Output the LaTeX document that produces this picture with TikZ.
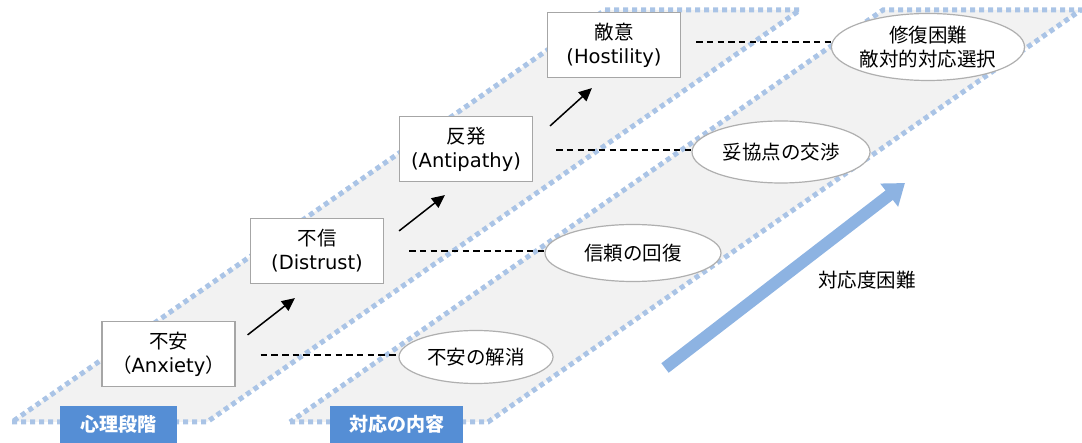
\documentclass[tikz,border=0pt]{standalone}
\usepackage{fontspec}
\setmainfont{DejaVu Sans}
\newfontfamily\jp{Noto Sans CJK JP}
\usetikzlibrary{arrows.meta,calc,shapes.geometric}
\definecolor{bandfill}{HTML}{F2F2F2}
\definecolor{banddot}{HTML}{AAC4E6}
\definecolor{lblblue}{HTML}{558ED5}
\definecolor{bigblue}{HTML}{8DB3E2}
\definecolor{edgegray}{HTML}{A6A6A6}
\begin{document}
\begin{tikzpicture}[x=1pt,y=-1pt,
  band/.style={fill=bandfill,draw=banddot,line width=5pt,dash pattern=on 5pt off 4pt},
  stagebox/.style={draw=edgegray,fill=white,line width=1.2pt,minimum width=133pt,minimum height=65pt,inner sep=0pt,align=center,font=\fontsize{19.5}{24}\selectfont},
  actell/.style={ellipse,draw=edgegray!90,fill=white,line width=1.2pt,inner sep=0pt,align=center,font=\jp\fontsize{19.5}{24}\selectfont},
  lbl/.style={fill=lblblue,text=white,minimum height=37pt,inner sep=0pt,font=\jp\bfseries\fontsize{19}{20}\selectfont},
  link/.style={black,line width=1.5pt,-{Triangle[length=13pt,width=12pt]}},
  guide/.style={black,line width=1.3pt,dash pattern=on 6.5pt off 4.2pt}
]
\useasboundingbox (0,0) rectangle (1082,443);
% bands
\coordinate (L1) at (12,422); \coordinate (L2) at (207,422);
\coordinate (L3) at (800,10); \coordinate (L4) at (605,10);
\coordinate (R1) at (290,422); \coordinate (R2) at (488,422);
\coordinate (R3) at (1081,10); \coordinate (R4) at (883,10);
\draw[band] (L1) -- (L2) -- (L3) -- (L4) -- cycle;
\draw[band] (R1) -- (R2) -- (R3) -- (R4) -- cycle;
% stage boxes
\node[stagebox] (b1) at (168.5,354) {{\jp 不安}\\{\jp （}Anxiety{\jp ）}};
\node[stagebox] (b2) at (317,251) {{\jp 不信}\\(Distrust)};
\node[stagebox] (b3) at (466,149) {{\jp 反発}\\(Antipathy)};
\node[stagebox] (b4) at (614,45) {{\jp 敵意}\\(Hostility)};
% ellipses
\node[actell,minimum width=154pt,minimum height=53pt] (e1) at (476,357) {不安の解消};
\node[actell,minimum width=176pt,minimum height=57pt] (e2) at (633,253) {信頼の回復};
\node[actell,minimum width=178pt,minimum height=62pt] (e3) at (781,152) {妥協点の交渉};
\node[actell,minimum width=183pt,minimum height=67pt] (e4) at (928,47) {修復困難\\敵対的対応選択};
% dashed guides
\draw[guide] ($(b1.east)+(25,1)$) -- ($(b1.east -| e1.west)+(0,1)$);
\draw[guide] ($(b2.east)+(25,0)$) -- (b2.east -| e2.west);
\draw[guide] ($(b3.east)+(23,1)$) -- ($(b3.east -| e3.west)+(0,1)$);
\draw[guide] ($(b4.east)+(15,-3)$) -- ($(b4.east -| e4.west)+(0,-3)$);
% stage arrows
\draw[link] ($(b1.north east)+(12,14)$) -- ($(b2.south west)+(45,14)$);
\draw[link] ($(b2.north east)+(15,13)$) -- ($(b3.south west)+(46,13)$);
\draw[link] ($(b3.north east)+(17,10)$) -- ($(b4.south west)+(45,10)$);
% big arrow
\coordinate (bs) at (665,368);
\coordinate (be) at (905,183);
\draw[bigblue,line width=12pt,-{Triangle[length=20pt,width=28pt]}] (bs) -- (be);
\node[font=\jp\fontsize{19.5}{20}\selectfont] (diff) at (867,280) {対応度困難};
% labels
\node[lbl,minimum width=117pt] (lbl1) at (118.5,424.5) {心理段階};
\node[lbl,minimum width=133pt] (lbl2) at (396.5,424.5) {対応の内容};
\end{tikzpicture}
\end{document}
